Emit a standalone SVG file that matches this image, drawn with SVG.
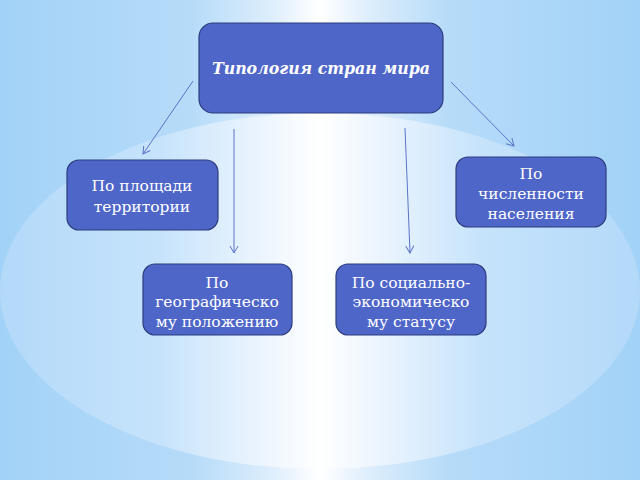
<svg xmlns="http://www.w3.org/2000/svg" width="640" height="480" viewBox="0 0 640 480">
<defs>
<linearGradient id="bg" x1="0" y1="0" x2="1" y2="0">
<stop offset="0" stop-color="#a2d2f7"/>
<stop offset="0.3" stop-color="#b6dbf9"/>
<stop offset="0.42" stop-color="#dcedfc"/>
<stop offset="0.5" stop-color="#ffffff"/>
<stop offset="0.58" stop-color="#dcedfc"/>
<stop offset="0.7" stop-color="#b6dbf9"/>
<stop offset="1" stop-color="#a2d2f7"/>
</linearGradient>
<linearGradient id="ellH" x1="0" y1="0" x2="1" y2="0">
<stop offset="0" stop-color="#b3d9f9"/>
<stop offset="0.25" stop-color="#c6e3fb"/>
<stop offset="0.4" stop-color="#eaf4fe"/>
<stop offset="0.5" stop-color="#ffffff"/>
<stop offset="0.6" stop-color="#eaf4fe"/>
<stop offset="0.75" stop-color="#c6e3fb"/>
<stop offset="1" stop-color="#b3d9f9"/>
</linearGradient>
<marker id="arr" markerWidth="10" markerHeight="10" refX="8" refY="5" orient="auto" markerUnits="userSpaceOnUse">
<path d="M1,1 L8,5 L1,9" fill="none" stroke="#5b74c6" stroke-width="1"/>
</marker>
</defs>
<style>
.node{fill:#4f66c9;stroke:#2d3c7e;stroke-width:1.2}
.t{font-family:"DejaVu Serif","Liberation Serif",serif;font-size:15.5px;fill:#ffffff;text-anchor:middle}
.title{font-weight:bold;font-style:italic;font-size:15.8px}
.c{stroke:#5b74c6;stroke-width:1;fill:none;marker-end:url(#arr)}
</style>
<rect x="0" y="0" width="640" height="480" fill="url(#bg)"/>
<ellipse cx="320" cy="291" rx="320" ry="178" fill="url(#ellH)"/>
<g id="connectors">
<line class="c" x1="193" y1="81" x2="143" y2="154"/>
<line class="c" x1="451" y1="82" x2="514" y2="146"/>
<line class="c" x1="234" y1="129" x2="234" y2="253"/>
<line class="c" x1="405" y1="128" x2="410" y2="253"/>
</g>
<g id="n-top">
<rect class="node" x="199" y="23" width="244" height="90" rx="14"/>
<text class="t title" x="321" y="74">Типология стран мира</text>
</g>
<g id="n-area">
<rect class="node" x="67" y="160" width="151" height="70" rx="12"/>
<text class="t" x="142" y="191">По площади</text>
<text class="t" x="142" y="212">территории</text>
</g>
<g id="n-pop">
<rect class="node" x="456" y="157" width="150" height="70" rx="12"/>
<text class="t" x="531" y="179">По</text>
<text class="t" x="531" y="199">численности</text>
<text class="t" x="531" y="219">населения</text>
</g>
<g id="n-geo">
<rect class="node" x="143" y="264" width="149" height="71" rx="12"/>
<text class="t" x="217" y="288">По</text>
<text class="t" x="217" y="307">географическо</text>
<text class="t" x="217" y="327">му положению</text>
</g>
<g id="n-soc">
<rect class="node" x="336" y="264" width="150" height="71" rx="12"/>
<text class="t" x="411" y="288">По социально-</text>
<text class="t" x="411" y="307">экономическо</text>
<text class="t" x="411" y="327">му статусу</text>
</g>
</svg>
